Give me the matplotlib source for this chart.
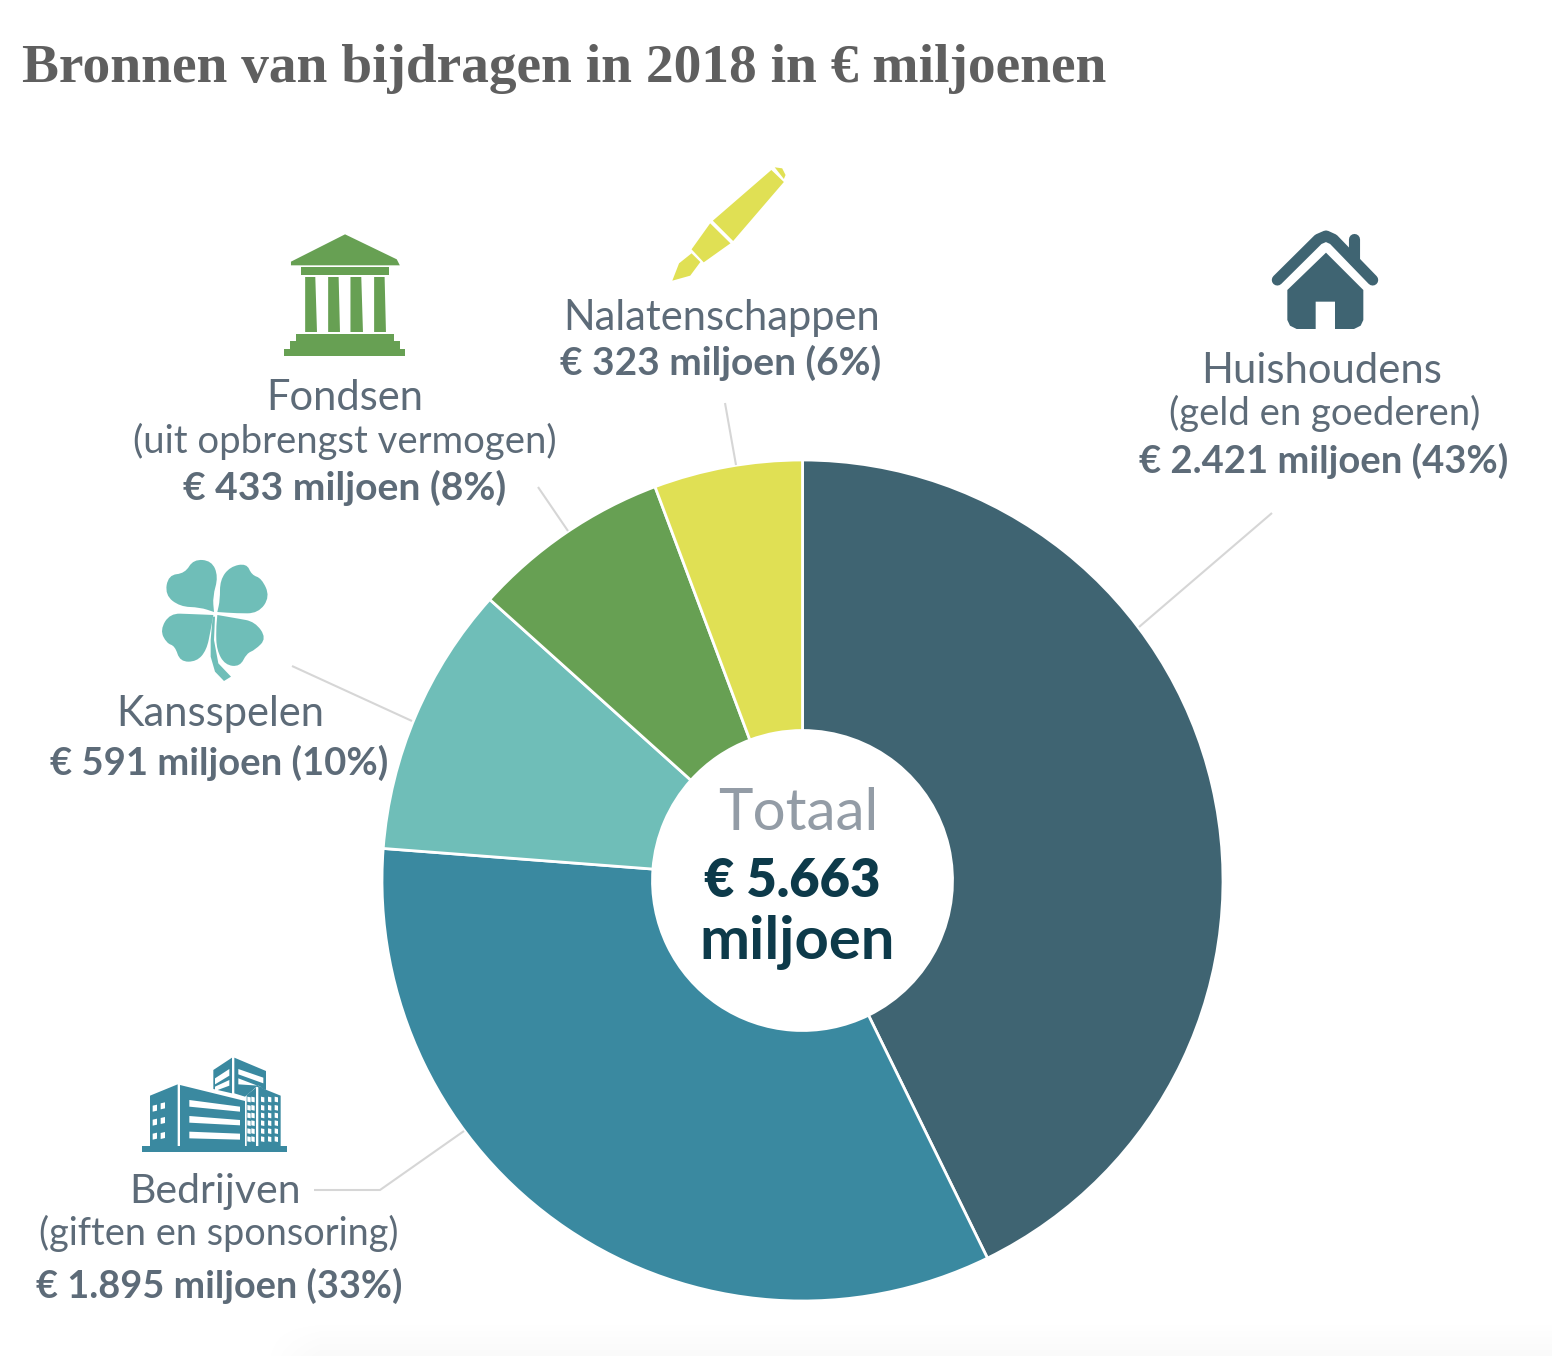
import matplotlib
matplotlib.use("Agg")
import matplotlib.pyplot as plt
import numpy as np
from matplotlib.patches import PathPatch, Polygon
from matplotlib.path import Path

# Data
categories = ["Huishoudens", "Bedrijven", "Kansspelen", "Fondsen", "Nalatenschappen"]
values = [2421, 1895, 591, 433, 323]
colors = ["#3f6472", "#3a89a0", "#6fbeb8", "#67a053", "#e0e054"]

W, H = 1552, 1356
CX, CY, R = 802.5, 880.5, 420.5
TEXT = "#5d6b78"
LINE = "#d6d6d6"
SANS = "Lato"

fig = plt.figure(figsize=(W / 100, H / 100), dpi=100, facecolor="white")

# Donut
pie_ax = fig.add_axes([(CX - R) / W, 1 - (CY + R) / H, 2 * R / W, 2 * R / H])
pie_ax.pie(
    values,
    colors=colors,
    startangle=90,
    counterclock=False,
    radius=1,
    wedgeprops={"width": 1 - 150 / R, "edgecolor": "white", "linewidth": 2},
)
pie_ax.set_xlim(-1, 1)
pie_ax.set_ylim(-1, 1)

# Overlay in picture pixels for labels and icons
ax = fig.add_axes([0, 0, 1, 1], zorder=5)
ax.patch.set_alpha(0)

# Faint shadow along the bottom edge of the page
fade_y = np.clip((np.arange(40) - 2) / 38, 0, 1)[:, None]
fade_x = np.clip((np.arange(W) - 260) / 60, 0, 1)[None, :]
ax.imshow(255 - 6 * fade_y * fade_x, cmap="gray", vmin=0, vmax=255, aspect="auto",
          extent=(0, W, H, H - 40), zorder=0)

ax.set_xlim(0, W)
ax.set_ylim(H, 0)
ax.axis("off")


def label(x, y, s, size=30, color=TEXT, weight="normal", family=SANS):
    ax.text(x, y, s, fontsize=size, color=color, fontweight=weight, family=family,
            ha="center", va="baseline")


def poly(pts, ox, oy, color, sx=3):
    ax.add_patch(Polygon([(ox + x / sx, oy + y / 3) for x, y in pts], closed=True,
                         fc=color, ec="none"))


def blob(pts, ox, oy, color):
    # closed quadratic spline through the midpoints of the control points
    pts = [(ox + x / 3, oy + y / 3) for x, y in pts]
    mid = lambda a, b: ((a[0] + b[0]) / 2, (a[1] + b[1]) / 2)
    verts = [mid(pts[-1], pts[0])]
    codes = [Path.MOVETO]
    for i, p in enumerate(pts):
        verts += [p, mid(p, pts[(i + 1) % len(pts)])]
        codes += [Path.CURVE3, Path.CURVE3]
    ax.add_patch(PathPatch(Path(verts, codes), fc=color, ec="none"))


# Title
ax.text(22, 82, "Bronnen van bijdragen in 2018 in € miljoenen", fontsize=39.9, color="#5f5f5f",
        fontweight="bold", family="Liberation Serif", ha="left", va="baseline")

# Labels
label(1322, 383, "Huishoudens", 30.1)
label(1325, 425, "(geld en goederen)", 27.5)
label(1324, 473, "€ 2.421 miljoen (43%)", 27.5, weight="bold")
label(722, 330, "Nalatenschappen", 30)
label(721, 375, "€ 323 miljoen (6%)", 28, weight="bold")
label(345, 410, "Fondsen", 30)
label(345, 453, "(uit opbrengst vermogen)", 27.5)
label(345, 500, "€ 433 miljoen (8%)", 28.2, weight="bold")
label(220, 726, "Kansspelen", 30)
label(219, 775, "€ 591 miljoen (10%)", 27.5, weight="bold")
label(215, 1203, "Bedrijven", 29.5)
label(219, 1245, "(giften en sponsoring)", 27.3)
label(219, 1298, "€ 1.895 miljoen (33%)", 27.3, weight="bold")
label(798, 830, "Totaal", 42, color="#939ca6")
label(792, 897, "€ 5.663", 37.6, color="#0d3a4a", weight="heavy")
label(797, 959, "miljoen", 43, color="#0d3a4a", weight="bold")

# Leader lines
for xs, ys in [
    ([1272, 1139], [513, 627]),
    ([725, 736], [403, 465]),
    ([538, 568], [487, 531]),
    ([292, 412], [666, 721]),
    ([314, 380, 464], [1190, 1190, 1131]),
]:
    ax.plot(xs, ys, color=LINE, lw=1.5, solid_capstyle="butt")

# Temple icon (that crop came back a little narrower than 3x)
c = colors[3]
ox, oy, sx = 270, 160, 2.958
poly([(62, 305), (222, 223), (375, 298), (384, 316), (62, 316)], ox, oy, c, sx)
poly([(92, 321), (352, 321), (352, 345), (92, 345)], ox, oy, c, sx)
for a, b, d in [(104, 134, 139), (172, 203, 207), (238, 270, 275), (308, 339, 343)]:
    poly([(a, 351), (b, 351), (d, 516), (a, 516)], ox, oy, c, sx)
poly([(77, 522), (366, 522), (366, 543), (385, 543), (385, 566), (400, 566), (400, 587),
      (41, 587), (41, 566), (59, 566), (59, 543), (77, 543)], ox, oy, c, sx)

# Pen icon
c = colors[4]
poly([(1483, 30), (1520, 66), (1370, 243), (1310, 182)], ox, oy, c, sx)
poly([(1493, 22), (1515, 25), (1525, 45), (1520, 57)], ox, oy, c, sx)
poly([(1302, 190), (1362, 250), (1283, 307), (1247, 268)], ox, oy, c, sx)
poly([(1247, 280), (1273, 306), (1243, 347), (1190, 362), (1210, 310)], ox, oy, c, sx)

# House icon
c = colors[0]
ox, oy = 1250, 210
ax.plot([ox + 82 / 3, ox + 205 / 3, ox + 228 / 3, ox + 250 / 3, ox + 368 / 3],
        [oy + 210 / 3, oy + 88 / 3, oy + 78 / 3, oy + 88 / 3, oy + 210 / 3],
        color=c, lw=8, solid_capstyle="round", solid_joinstyle="round")
ax.plot([ox + 313 / 3, ox + 313 / 3], [oy + 87 / 3, oy + 150 / 3], color=c, lw=8,
        solid_capstyle="round")
poly([(112, 240), (228, 128), (340, 240), (340, 330), (332, 347), (312, 357), (255, 357),
      (255, 275), (197, 275), (197, 357), (140, 357), (120, 347), (112, 330)], ox, oy, c)

# Clover icon
c = colors[2]
ox, oy = 140, 550
blob([(222, 186), (222, 186), (218, 140), (235, 80), (215, 32), (160, 28), (135, 70),
      (85, 75), (75, 135), (120, 170), (180, 172)], ox, oy, c)
blob([(232, 186), (232, 186), (290, 190), (355, 190), (390, 140), (365, 85), (335, 75),
      (320, 40), (270, 50), (240, 90), (240, 150)], ox, oy, c)
blob([(232, 195), (232, 195), (290, 205), (345, 215), (380, 265), (345, 300), (320, 310),
      (300, 350), (255, 345), (230, 300), (228, 240)], ox, oy, c)
blob([(220, 195), (220, 195), (150, 192), (90, 190), (60, 240), (80, 280), (105, 288),
      (120, 335), (170, 335), (200, 300), (212, 240)], ox, oy, c)
poly([(218, 200), (225, 200), (222, 270), (235, 340), (273, 380), (252, 393), (225, 365),
      (212, 320), (212, 270)], ox, oy, c)

# Building icon
c = colors[1]
ox, oy = 130, 1045
poly([(37, 303), (472, 303), (472, 322), (37, 322)], ox, oy, c)
poly([(60, 152), (143, 118), (143, 303), (60, 303)], ox, oy, c)
poly([(150, 120), (345, 168), (345, 303), (150, 303)], ox, oy, c)
poly([(350, 150), (378, 128), (378, 303), (350, 303)], ox, oy, c)
poly([(385, 125), (452, 152), (452, 303), (385, 303)], ox, oy, c)
poly([(250, 75), (306, 38), (306, 145), (250, 132)], ox, oy, c)
poly([(313, 38), (408, 78), (408, 135), (380, 125), (345, 155), (313, 145)], ox, oy, c)
w = "white"
for a, b, d, e in [(165, 185, 185, 200), (213, 233, 225, 241), (260, 280, 266, 284)]:
    poly([(178, a), (330, d), (330, e), (178, b)], ox, oy, w)
for pts in [
    [(255, 100), (298, 72), (298, 92), (255, 118)],
    [(255, 125), (298, 105), (298, 122), (255, 138)],
    [(325, 72), (400, 98), (400, 115), (325, 88)],
    [(325, 100), (398, 128), (385, 122), (325, 118)],
]:
    poly(pts, ox, oy, w)
for x, ys in [(68, [182, 224, 266]), (92, [175, 219, 264])]:
    for y in ys:
        poly([(x, y), (x + 13, y - 3), (x + 13, y + 15), (x, y + 18)], ox, oy, w)
for x in [352, 364, 393, 414, 434]:
    for y in [155, 180, 203, 226, 250, 274]:
        poly([(x, y), (x + 10, y + 2), (x + 10, y + 17), (x, y + 15)], ox, oy, w)

fig.savefig("out.png", dpi=100, facecolor="white")
